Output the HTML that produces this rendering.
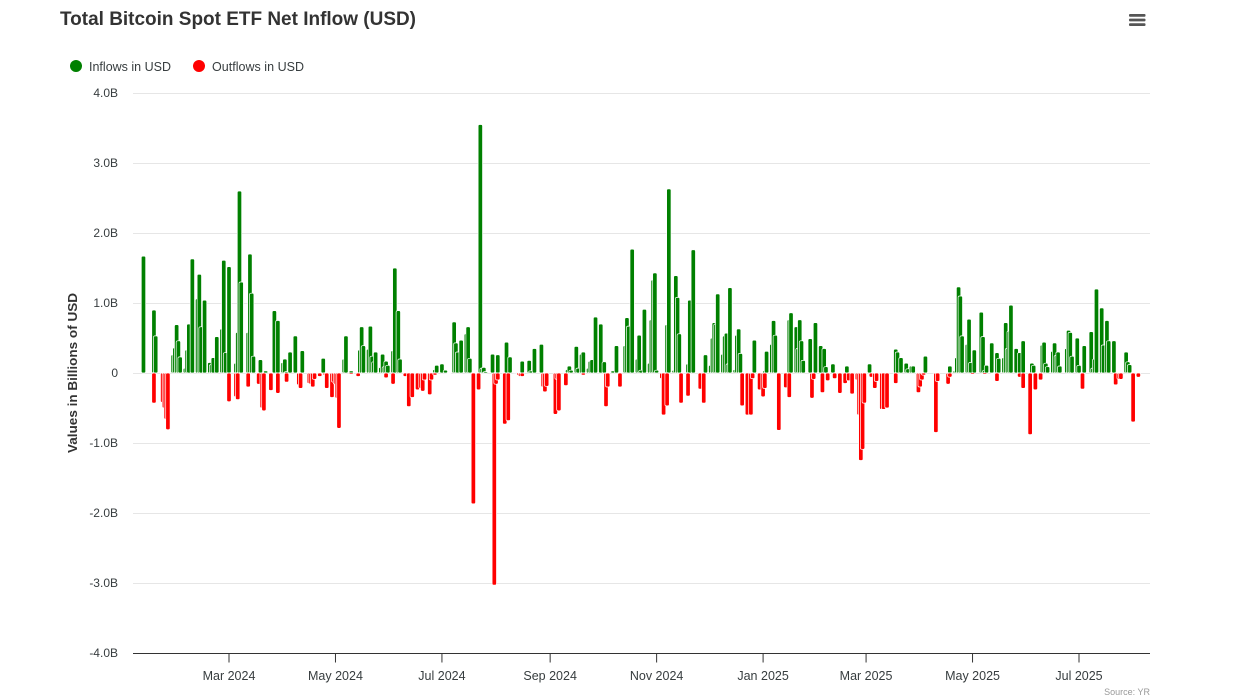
<!DOCTYPE html>
<html lang="en">
<head>
<meta charset="utf-8">
<title>Total Bitcoin Spot ETF Net Inflow (USD)</title>
<style>
html,body{margin:0;padding:0;background:#fff;width:1240px;height:697px;overflow:hidden}
svg{display:block;font-family:"Liberation Sans",sans-serif}
</style>
</head>
<body>
<svg id="chart" width="1240" height="697" viewBox="0 0 1240 697" xmlns="http://www.w3.org/2000/svg">
  <text x="60" y="25" font-size="19" font-weight="700" fill="#333" textLength="356" lengthAdjust="spacingAndGlyphs">Total Bitcoin Spot ETF Net Inflow (USD)</text>
  <g fill="#555">
    <rect x="1129" y="14" width="16.5" height="2.8" rx="1"/>
    <rect x="1129" y="18.6" width="16.5" height="2.8" rx="1"/>
    <rect x="1129" y="23.2" width="16.5" height="2.8" rx="1"/>
  </g>
  <g>
    <circle cx="76" cy="66" r="6" fill="#008000"/>
    <text x="89" y="71" font-size="12.5" fill="#373d3f" textLength="82" lengthAdjust="spacing">Inflows in USD</text>
  </g>
  <g>
    <circle cx="199" cy="66" r="6" fill="#ff0000"/>
    <text x="212" y="71" font-size="12.5" fill="#373d3f" textLength="92" lengthAdjust="spacing">Outflows in USD</text>
  </g>
  <g id="grid"></g>
  <g id="yticks"></g>
  <text transform="translate(77 373) rotate(-90)" text-anchor="middle" font-size="12.5" font-weight="700" fill="#333" textLength="160" lengthAdjust="spacingAndGlyphs">Values in Billions of USD</text>
  <g id="series-in"></g>
  <g id="series-out"></g>
  <line x1="133" x2="1150" y1="653.5" y2="653.5" stroke="#333" stroke-width="1"/>
  <g id="xticks"></g>
  <text x="1150" y="695" text-anchor="end" font-size="9" fill="#999">Source: YR</text>
</svg>
<script>
// Weeks start on this Monday; each row below is Mon, Tue, Wed, Thu, Fri in billions of USD (0 = no bar).
const firstWeek = '2024-01-08';
const inflows = [
[0,0,0,0,1.67],[0,0,0,.90,.53],[0,0,0,0,0],[.26,.36,.69,.46,.23],[.07,.33,.70,0,1.63],
[1.06,1.41,.66,0,1.04],[.15,.12,.22,0,.52],[.63,1.61,.29,0,1.52],[0,.14,.58,2.60,1.30],[0,.58,1.70,1.14,.24],
[0,.19,0,0,.03],[0,0,.89,0,.75],[.15,.20,.02,0,.30],[.53,0,0,0,.32],[0,0,0,0,0],
[0,0,.21,0,0],[0,0,0,0,0],[.20,.53,0,0,.03],[0,0,.33,.66,.39],[.34,.67,.24,.16,.30],
[.08,.27,.09,.17,.11],[.32,1.50,0,.89,.20],[0,0,0,0,0],[0,0,0,0,0],[0,0,0,.05,.11],
[.13,0,.04,0,0],[.73,.43,.30,0,.47],[.56,.66,.21,0,0],[0,3.55,.07,.08,.02],[0,.27,0,0,.26],
[0,0,.44,0,.23],[.01,0,0,0,.17],[0,.18,.03,0,.35],[0,.41,0,0,0],[0,0,0,0,0],
[0,0,.05,.10,.04],[.38,.07,0,.27,.30],[.07,.17,.19,0,.80],[.70,0,.16,0,0],[.03,0,.39,0,0],
[.39,.79,.67,0,1.77],[.20,.54,.04,0,.91],[.14,.76,1.33,1.43,.04],[0,0,0,.69,2.63],[.04,1.39,1.08,.56,0],
[0,.13,1.04,0,1.76],[0,.01,0,0,.26],[.11,.50,.72,.70,1.13],[.27,.53,.57,.13,1.22],[.05,.54,.63,.28,0],
[0,0,0,0,.47],[0,0,0,.03,.31],[.41,.75,.54,0,0],[0,0,0,.76,.86],[.66,.35,.76,.46,.18],
[0,.49,0,0,.72],[.39,0,.35,.09,0],[.13,0,0,0,0],[0,.10,0,0,0],[0,0,0,0,0],
[.13,0,0,0,0],[0,0,0,0,0],[0,.34,.30,0,.22],[.14,.06,0,.10,.10],[0,0,0,0,.24],
[0,0,0,0,0],[0,0,0,0,.10],[.03,.22,1.23,1.10,.53],[.41,.77,.15,0,.33],[0,.87,.52,.04,.11],
[.43,0,0,.29,.21],[.22,.72,.35,.60,.97],[.35,0,.29,0,.46],[0,0,.14,.11,0],[0,.40,.44,.14,.09],
[.31,.43,.25,.30,.10],[0,.35,.61,.58,.24],[.50,.11,0,0,.39],[0,.59,.07,.20,1.20],[.93,.40,0,.75,.46],
[.46,0,0,0,0],[.30,.16,.12,0,0],[0,0,0,0,0]
];
const outflows = [
[0,0,0,0,0],[0,0,0,-.43,0],[0,-.42,-.50,-.66,-.81],[0,0,0,0,0],[0,0,0,0,0],
[0,0,0,0,0],[0,0,0,0,0],[0,0,0,0,-.41],[0,-.34,-.38,0,0],[0,-.20,0,0,0],
[-.16,0,-.50,-.54,0],[-.25,0,0,0,-.29],[0,0,-.13,0,0],[0,0,-.17,-.22,0],[0,-.15,-.16,-.20,-.09],
[-.05,0,0,-.03,-.22],[-.35,-.13,-.16,-.36,-.79],[0,0,0,0,-.02],[0,-.05,0,0,0],[0,0,0,0,0],
[0,0,0,-.07,0],[-.16,0,0,0,0],[-.05,0,-.48,0,-.35],[-.24,0,-.22,-.26,-.10],[-.31,-.10,0,-.03,0],
[0,0,0,0,-.01],[0,0,0,0,0],[0,0,0,0,-1.87],[-.24,0,0,0,0],[0,0,-3.03,-.16,-.10],
[0,-.73,0,-.68,0],[0,0,-.03,-.05,-.05],[0,0,0,0,0],[0,0,-.20,-.27,-.19],[0,0,-.59,-.09,-.54],
[0,-.18,0,0,0],[0,0,0,0,-.03],[0,0,0,0,0],[0,0,0,-.48,-.20],[0,0,0,0,-.20],
[0,0,0,0,0],[0,0,0,0,0],[0,0,0,0,0],[-.08,-.60,0,-.47,0],[0,0,0,0,-.43],
[0,-.33,0,0,0],[0,-.23,0,-.43,0],[0,0,0,0,0],[0,0,0,0,0],[0,0,0,0,-.47],
[-.60,0,-.60,-.08,0],[-.24,0,-.34,-.22,0],[0,0,0,0,-.82],[0,-.21,0,-.35,0],[0,0,0,0,0],
[0,0,-.36,-.09,0],[0,-.28,0,0,-.11],[0,-.08,0,0,-.29],[-.15,0,-.11,0,-.30],[-.10,-.60,-1.25,-1.09,-.43],
[0,-.06,0,-.22,-.12],[-.52,-.52,0,-.50,0],[0,-.15,0,0,0],[0,0,0,0,0],[-.28,-.20,-.10,-.03,0],
[0,0,0,-.85,-.12],[0,0,0,-.16,-.06],[0,0,0,0,0],[0,0,0,-.02,0],[0,0,0,-.02,0],
[0,-.01,0,-.12,0],[0,0,0,0,0],[0,0,-.06,0,-.22],[0,-.88,0,0,-.24],[-.10,0,0,0,0],
[0,0,0,0,0],[0,0,0,0,0],[0,0,0,-.23,0],[0,0,0,0,0],[0,0,0,0,0],
[0,-.17,0,-.09,-.09],[0,0,0,0,-.70],[-.06,0,0,0,0]
];
const yTickValues = [4,3,2,1,0,-1,-2,-3,-4];
const yTickLabels = ['4.0B','3.0B','2.0B','1.0B','0','-1.0B','-2.0B','-3.0B','-4.0B'];
const xTickDates = ['2024-03-01','2024-05-01','2024-07-01','2024-09-01','2024-11-01','2025-01-01','2025-03-01','2025-05-01','2025-07-01'];
const xTickLabels = ['Mar 2024','May 2024','Jul 2024','Sep 2024','Nov 2024','Jan 2025','Mar 2025','May 2025','Jul 2025'];

const SVG_NS = 'http://www.w3.org/2000/svg';
const DAY_MS = 86400000;
const originMs = Date.parse('2024-03-01');
function xScale(ms) { return 229 + (ms - originMs) / DAY_MS * 1.7454; }
function yScale(v) { return 373 - v * 70; }
function make(tag, attrs) {
  const el = document.createElementNS(SVG_NS, tag);
  for (const k in attrs) el.setAttribute(k, attrs[k]);
  return el;
}

const gridGroup = document.getElementById('grid');
const yGroup = document.getElementById('yticks');
yTickValues.forEach(function (v, i) {
  if (v !== -4) {
    const line = make('line', {x1: 133, x2: 1150, y1: yScale(v) + 0.5, y2: yScale(v) + 0.5, stroke: '#e6e6e6', 'stroke-width': 1});
    
    
    gridGroup.appendChild(line);
  }
  const label = make('text', {x: 118, y: yScale(v) + 4, 'text-anchor': 'end', 'font-size': 12, fill: '#373d3f'});
  
  
  label.textContent = yTickLabels[i];
  yGroup.appendChild(label);
});

const xGroup = document.getElementById('xticks');
xTickDates.forEach(function (d, i) {
  const x = xScale(Date.parse(d));
  const tick = make('line', {x1: x, x2: x, y1: 653, y2: 662.5, stroke: '#333', 'stroke-width': 1});
  
  
  xGroup.appendChild(tick);
  const label = make('text', {x: x, y: 680, 'text-anchor': 'middle', 'font-size': 12.5, fill: '#373d3f'});
  
  
  label.textContent = xTickLabels[i];
  xGroup.appendChild(label);
});

function drawSeries(rows, group, color, name) {
  const startMs = Date.parse(firstWeek);
  rows.forEach(function (week, w) {
    week.forEach(function (v, d) {
      if (!v) return;
      const x = xScale(startMs + (w * 7 + d) * DAY_MS);
      const top = Math.min(yScale(v), yScale(0));
      const h = Math.abs(yScale(v) - yScale(0));
      const bar = make('rect', {x: x - 2.2, y: top, width: 4.4, height: h, rx: 1.4, fill: color, stroke: '#fff', 'stroke-width': 0.7});
      
      
      group.appendChild(bar);
    });
  });
}
drawSeries(inflows, document.getElementById('series-in'), '#008000', 'inflow-bar');
drawSeries(outflows, document.getElementById('series-out'), '#ff0000', 'outflow-bar');
</script>
</body>
</html>
